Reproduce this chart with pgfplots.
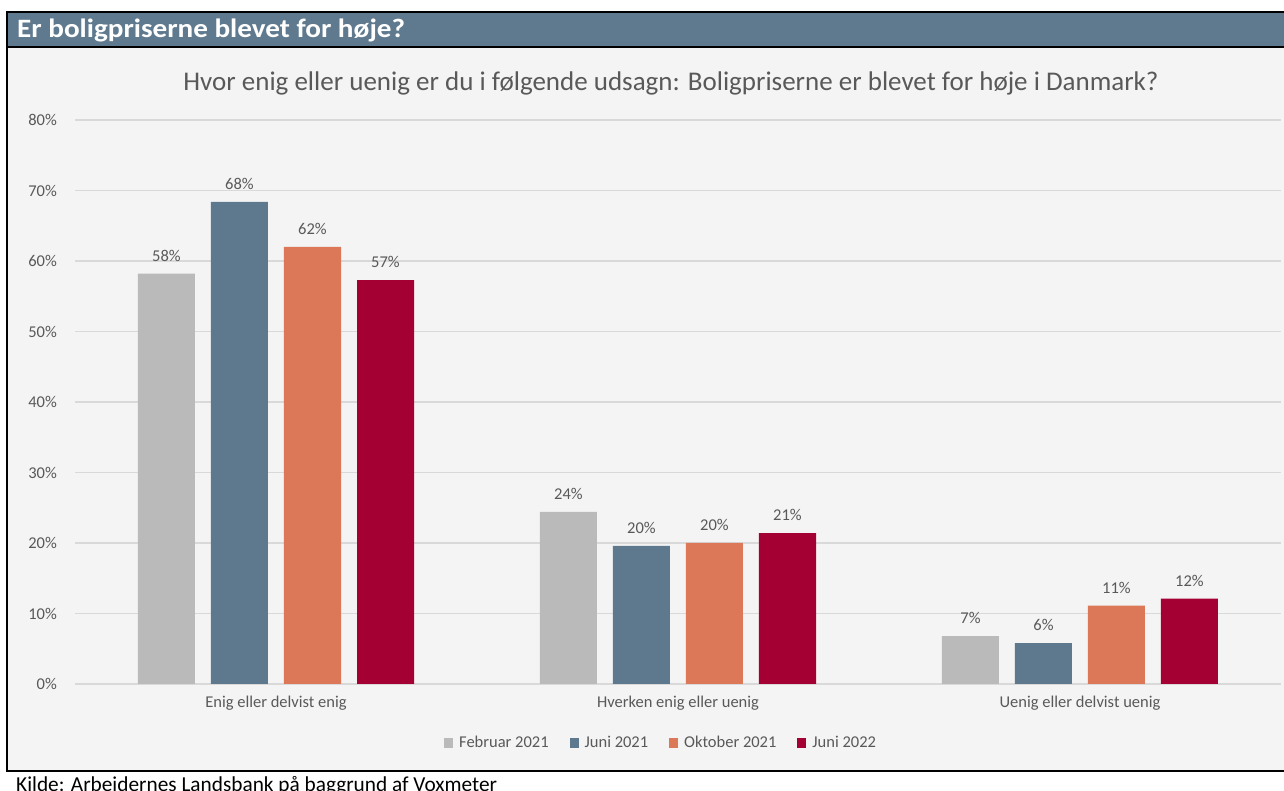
\documentclass[border=0pt]{standalone}
\usepackage{fontspec}
\setmainfont{Carlito}
\usepackage{graphicx}
\usepackage{pgfplots}
\pgfplotsset{compat=1.18}
\definecolor{cgrey}{HTML}{BABABA}
\definecolor{cblue}{HTML}{5E798E}
\definecolor{corange}{HTML}{DC7857}
\definecolor{cred}{HTML}{A50034}
\definecolor{bgc}{HTML}{F4F4F4}
\definecolor{hdr}{HTML}{5F7A8F}
\definecolor{txt}{HTML}{595959}
\definecolor{gridc}{HTML}{D9D9D9}
\begin{document}
\begin{tikzpicture}
\useasboundingbox (0pt,0pt) rectangle (1284pt,791pt);
\fill[white] (0pt,0pt) rectangle (1284pt,791pt);
\fill[bgc] (7pt,20pt) rectangle (1290pt,744pt);
\fill[hdr] (7pt,744pt) rectangle (1290pt,779pt);
\draw[black,line width=2pt] (1290pt,779pt) -- (7pt,779pt) -- (7pt,20pt) -- (1290pt,20pt);
\draw[black,line width=2pt] (7pt,744pt) -- (1290pt,744pt);
\node[anchor=base west, inner sep=0pt, text=white, font=\fontsize{26.5}{30}\selectfont\bfseries] at (17pt,753.5pt) {\scalebox{1.1}[1]{Er boligpriserne blevet for høje?}};
\node[anchor=base, inner sep=0pt, text=txt, font=\fontsize{27}{31}\selectfont] at (671pt,700pt) {Hvor enig eller uenig er du i følgende udsagn: Boligpriserne er blevet for høje i Danmark?};
\node[anchor=base west, inner sep=0pt, text=black, font=\fontsize{21.3}{25}\selectfont] at (16pt,-0.5pt) {Kilde: Arbeidernes Landsbank på baggrund af Voxmeter};
\begin{axis}[
  at={(75pt,107pt)}, anchor=south west,
  width=1206pt, height=564pt, scale only axis,
  xmin=-0.5, xmax=2.5, ymin=0, ymax=80,
  ytick={0,10,...,80},
  yticklabel={\pgfmathprintnumber{\tick}\%},
  /pgf/number format/assume math mode=true,
  xtick={0,1,2},
  xticklabels={Enig eller delvist enig, Hverken enig eller uenig, Uenig eller delvist uenig},
  ymajorgrids, grid style={gridc, line width=1.5pt},
  axis line style={draw=none},
  major tick length=0pt,
  tick label style={font=\fontsize{16.5}{20}\selectfont, text=txt},
  yticklabel style={inner sep=0pt, xshift=-18pt},
  xticklabel style={inner sep=0pt, yshift=-12pt},
  ybar=16pt, bar width=57pt,
  nodes near coords={\pgfmathprintnumber[fixed,precision=0]{\pgfplotspointmeta}\%},
  nodes near coords style={font=\fontsize{16.5}{20}\selectfont, text=txt, inner sep=0pt, anchor=south, yshift=12pt},
  legend columns=4,
  legend style={at={(axis description cs:0.486,-0.1046)}, anchor=center, draw=none, fill=none,
    font=\fontsize{16.5}{20}\selectfont, text=txt,
    /tikz/every even column/.append style={column sep=19pt}},
  legend image code/.code={\fill[#1] (0pt,-5pt) rectangle (9pt,5pt); \path (13pt,0pt);},
]
\addplot[fill=cgrey, draw=none] coordinates {(0,58.2) (1,24.4) (2,6.8)};
\addplot[fill=cblue, draw=none] coordinates {(0,68.4) (1,19.6) (2,5.8)};
\addplot[fill=corange, draw=none] coordinates {(0,62.0) (1,20.0) (2,11.1)};
\addplot[fill=cred, draw=none] coordinates {(0,57.3) (1,21.4) (2,12.1)};
\legend{Februar 2021, Juni 2021, Oktober 2021, Juni 2022}
\end{axis}
\end{tikzpicture}
\end{document}
